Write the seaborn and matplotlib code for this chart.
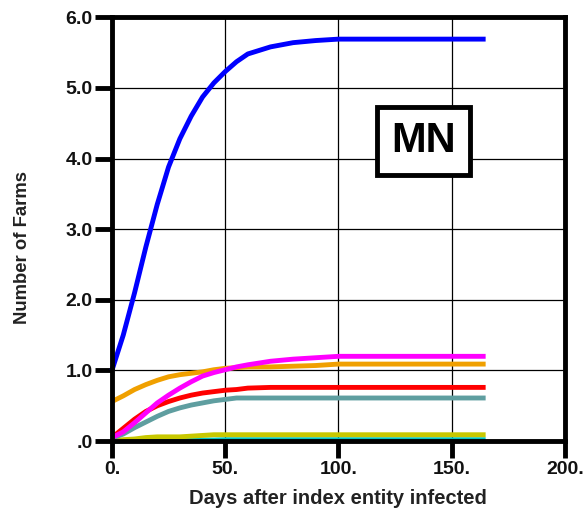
import matplotlib
matplotlib.use("Agg")
import matplotlib.pyplot as plt
from matplotlib.patches import Rectangle
import seaborn as sns
import pandas as pd

# days after index entity infected
days = [0, 5, 10, 15, 20, 25, 30, 35, 40, 45, 50, 55, 60, 70, 80, 90, 100, 165]

# number of farms per scenario
blue = [1.0, 1.5, 2.1, 2.75, 3.35, 3.88, 4.28, 4.6, 4.87, 5.07, 5.23, 5.37, 5.48, 5.58, 5.64, 5.67, 5.69, 5.69]
magenta = [0.05, 0.13, 0.26, 0.4, 0.54, 0.65, 0.75, 0.84, 0.92, 0.97, 1.01, 1.05, 1.08, 1.13, 1.16, 1.18, 1.2, 1.2]
orange = [0.56, 0.64, 0.73, 0.8, 0.86, 0.91, 0.94, 0.96, 0.98, 1.01, 1.03, 1.04, 1.05, 1.05, 1.06, 1.07, 1.09, 1.09]
red = [0.05, 0.18, 0.31, 0.42, 0.5, 0.56, 0.61, 0.65, 0.68, 0.7, 0.72, 0.73, 0.75, 0.76, 0.76, 0.76, 0.76, 0.76]
teal = [0.04, 0.1, 0.19, 0.27, 0.35, 0.42, 0.47, 0.51, 0.54, 0.57, 0.59, 0.61, 0.61, 0.61, 0.61, 0.61, 0.61, 0.61]
olive = [0.0, 0.02, 0.03, 0.05, 0.06, 0.06, 0.06, 0.07, 0.08, 0.09, 0.09, 0.09, 0.09, 0.09, 0.09, 0.09, 0.09, 0.09]
cyan = [0.0, 0.005, 0.01, 0.015, 0.015, 0.015, 0.015, 0.015, 0.015, 0.015, 0.02, 0.02, 0.02, 0.02, 0.02, 0.02, 0.02, 0.02]

series = [("cyan", cyan, "#00c4c4"), ("olive", olive, "#c8c800"), ("teal", teal, "#5f9ea0"),
          ("red", red, "#ff0000"), ("orange", orange, "#f0a000"), ("magenta", magenta, "#ff00ff"),
          ("blue", blue, "#0000ff")]

x_ticks = [0, 50, 100, 150, 200]
x_labels = ["0.", "50.", "100.", "150.", "200."]
y_ticks = [0, 1, 2, 3, 4, 5, 6]
y_labels = [".0", "1.0", "2.0", "3.0", "4.0", "5.0", "6.0"]

sns.set_theme(style="white")
plt.rcParams["font.family"] = ["Liberation Sans", "DejaVu Sans"]
plt.rcParams["font.weight"] = "bold"

fig = plt.figure(figsize=(5.86, 5.22), dpi=100)
ax = fig.add_axes([0.191, 0.155, 0.773, 0.812])

for name, vals, col in series:
    df = pd.DataFrame({"day": days, "farms": vals})
    sns.lineplot(data=df, x="day", y="farms", color=col, linewidth=3.5, ax=ax,
                 solid_capstyle="butt", clip_on=False)

ax.set_xlim(0, 200)
ax.set_ylim(0, 6)
ax.set_xticks(x_ticks)
ax.set_xticklabels(x_labels)
ax.set_yticks(y_ticks)
ax.set_yticklabels(y_labels)
ax.grid(True, color="black", linewidth=0.9)
ax.set_axisbelow(True)
for s in ax.spines.values():
    s.set_visible(True)
    s.set_color("black")
    s.set_linewidth(3.5)
ax.tick_params(axis="both", direction="out", length=12, width=3.5, color="black",
               bottom=True, left=True, labelsize=14, labelcolor="#111111", pad=2)
for lab in ax.get_xticklabels() + ax.get_yticklabels():
    lab.set_fontweight("bold")

ax.set_xlabel("Days after index entity infected", fontsize=14.5, fontweight="bold", color="#222222", labelpad=8)
ax.set_ylabel("Number of Farms", fontsize=13.3, fontweight="bold", color="#222222")
ax.yaxis.set_label_coords(-0.178, 0.456)

# state label box
ax.add_patch(Rectangle((0.585, 0.627), 0.205, 0.161, transform=ax.transAxes,
                       facecolor="white", edgecolor="black", linewidth=3.5, zorder=5))
ax.text(0.6875, 0.707, "MN", transform=ax.transAxes, ha="center", va="center",
        fontsize=30, fontweight="bold", color="black", zorder=6)

fig.savefig("out.png", dpi=100)
